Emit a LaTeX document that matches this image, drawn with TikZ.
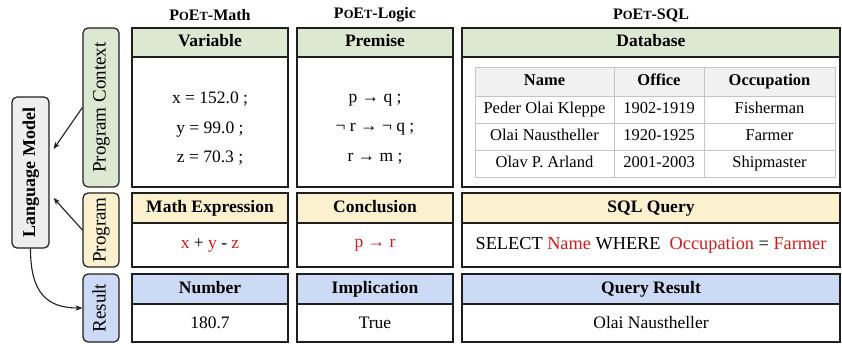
\documentclass[tikz,border=0pt]{standalone}
\usepackage{fontspec}
\setmainfont{Liberation Serif}
\usetikzlibrary{arrows.meta}
\definecolor{edge}{HTML}{1E1E1E}
\definecolor{ctxgreen}{HTML}{DDE8D3}
\definecolor{proyellow}{HTML}{FBF1CE}
\definecolor{resblue}{HTML}{CDDAF5}
\definecolor{lmgray}{HTML}{EEEEEE}
\definecolor{hlred}{HTML}{D01C1C}
\definecolor{tgray}{HTML}{C4C4C4}
\definecolor{thead}{HTML}{F1F1F1}
\newcommand\redtxt[1]{\textcolor{hlred}{#1}}
\newcommand\pseudosc[1]{{\fontsize{12.5}{12}\selectfont #1}}
\tikzset{
  box/.style={draw=edge, line width=1.2pt, inner sep=0pt, outer sep=0pt, anchor=center},
  hdr/.style={box, font=\fontsize{17.5}{20}\selectfont\bfseries, text height=12pt, text depth=4pt},
  bodybox/.style={box},
  side/.style={draw=edge, line width=1.2pt, rounded corners=5pt, rotate=90, inner sep=0pt,
    font=\fontsize{19}{20}\selectfont, text height=13pt, text depth=4pt},
  txt/.style={font=\fontsize{17.5}{29.5}\selectfont, inner sep=0pt, align=center},
  titletxt/.style={font=\fontsize{16}{18}\selectfont\bfseries, inner sep=0pt},
  cell/.style={draw=tgray, line width=0.8pt, inner sep=0pt, font=\fontsize{16.5}{18}\selectfont,
    text height=11pt, text depth=3.5pt},
  headcell/.style={cell, fill=thead, font=\fontsize{16.5}{18}\selectfont\bfseries},
  arr/.style={draw=edge, line width=1.1pt, -{Stealth[length=7pt,width=5.5pt]}}
}
\begin{document}
\begin{tikzpicture}[x=1pt,y=-1pt]
\useasboundingbox (0,0) rectangle (842,343);
% column titles
\node[titletxt] (tmath) at (210,15) {P\pseudosc{O}E\pseudosc{T}-Math};
\node[titletxt] (tlogic) at (375,15) {P\pseudosc{O}E\pseudosc{T}-Logic};
\node[titletxt] (tsql) at (651,15) {P\pseudosc{O}E\pseudosc{T}-SQL};
% side boxes
\node[side, fill=lmgray, minimum width=151pt, minimum height=37pt, font=\fontsize{18}{20}\selectfont\bfseries] (lm) at (30.5,172.5) {Language Model};
\node[side, fill=ctxgreen, minimum width=159pt, minimum height=36pt] (pc) at (101,107.5) {Program Context};
\node[side, fill=proyellow, minimum width=74pt, minimum height=36pt] (prog) at (101,230) {Program};
\node[side, fill=resblue, minimum width=68pt, minimum height=36pt] (res) at (101,308) {Result};
% context row
\node[hdr, fill=ctxgreen, minimum width=156pt, minimum height=29pt] (mathH) at (210,42.5) {Variable};
\node[bodybox, minimum width=156pt, minimum height=130pt] (mathB) at (210,122) {};
\node[txt] (mathV) at (210,129) {x = 152.0 ;\\ y = 99.0 ;\\ z = 70.3 ;};
\node[hdr, fill=ctxgreen, minimum width=156pt, minimum height=29pt] (logicH) at (375,42.5) {Premise};
\node[bodybox, minimum width=156pt, minimum height=130pt] (logicB) at (375,122) {};
\node[txt] (logicV) at (375,129) {p → q ;\\ ¬ r → ¬ q ;\\ r → m ;};
\node[hdr, fill=ctxgreen, minimum width=378pt, minimum height=29pt] (sqlH) at (651,42.5) {Database};
\node[bodybox, minimum width=378pt, minimum height=130pt] (sqlB) at (651,122) {};
% database table
\node[headcell, minimum width=139pt, minimum height=29pt] (c11) at (544.5,81.5) {Name};
\node[headcell, minimum width=90pt, minimum height=29pt] (c12) at (659,81.5) {Office};
\node[headcell, minimum width=131pt, minimum height=29pt] (c13) at (769.5,81.5) {Occupation};
\node[cell, minimum width=139pt, minimum height=27pt] (c21) at (544.5,109.5) {Peder Olai Kleppe};
\node[cell, minimum width=90pt, minimum height=27pt] (c22) at (659,109.5) {1902-1919};
\node[cell, minimum width=131pt, minimum height=27pt] (c23) at (769.5,109.5) {Fisherman};
\node[cell, minimum width=139pt, minimum height=27pt] (c31) at (544.5,136.5) {Olai Naustheller};
\node[cell, minimum width=90pt, minimum height=27pt] (c32) at (659,136.5) {1920-1925};
\node[cell, minimum width=131pt, minimum height=27pt] (c33) at (769.5,136.5) {Farmer};
\node[cell, minimum width=139pt, minimum height=27pt] (c41) at (544.5,163.5) {Olav P. Arland};
\node[cell, minimum width=90pt, minimum height=27pt] (c42) at (659,163.5) {2001-2003};
\node[cell, minimum width=131pt, minimum height=27pt] (c43) at (769.5,163.5) {Shipmaster};
% program row
\node[hdr, fill=proyellow, minimum width=156pt, minimum height=30pt] (mathPH) at (210,208) {Math Expression};
\node[bodybox, txt, minimum width=156pt, minimum height=44pt] (mathPB) at (210,245) {\redtxt{x} + \redtxt{y} - \redtxt{z}};
\node[hdr, fill=proyellow, minimum width=156pt, minimum height=30pt] (logicPH) at (375,208) {Conclusion};
\node[bodybox, txt, minimum width=156pt, minimum height=44pt] (logicPB) at (375,245) {\redtxt{p → r}};
\node[hdr, fill=proyellow, minimum width=378pt, minimum height=30pt] (sqlPH) at (651,208) {SQL Query};
\node[bodybox, txt, minimum width=378pt, minimum height=44pt, font=\fontsize{18.3}{22}\selectfont] (sqlPB) at (651,245) {SELECT \redtxt{Name} WHERE\ \ \redtxt{Occupation} = \redtxt{Farmer}};
% result row
\node[hdr, fill=resblue, minimum width=156pt, minimum height=30pt] (mathRH) at (210,289) {Number};
\node[bodybox, txt, minimum width=156pt, minimum height=38pt] (mathRB) at (210,323) {180.7};
\node[hdr, fill=resblue, minimum width=156pt, minimum height=30pt] (logicRH) at (375,289) {Implication};
\node[bodybox, txt, minimum width=156pt, minimum height=38pt] (logicRB) at (375,323) {True};
\node[hdr, fill=resblue, minimum width=378pt, minimum height=30pt] (sqlRH) at (651,289) {Query Result};
\node[bodybox, txt, minimum width=378pt, minimum height=38pt] (sqlRB) at (651,323) {Olai Naustheller};
% arrows
\draw[arr] (pc.north) -- ([xshift=4pt,yshift=23.5pt]lm.south);
\draw[arr] (prog.north) -- ([xshift=4pt,yshift=-25.5pt]lm.south);
\draw[arr] (lm.west) .. controls +(0,45) and +(-35,0) .. (res.north);
\end{tikzpicture}
\end{document}
